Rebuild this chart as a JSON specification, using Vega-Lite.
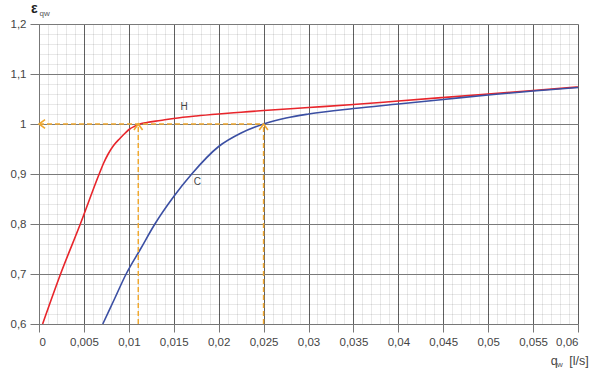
{
  "$schema": "https://vega.github.io/schema/vega-lite/v6.json",
  "width": 539,
  "height": 300,
  "autosize": {"type": "none"},
  "padding": {"left": 39, "top": 24, "right": 22, "bottom": 52},
  "background": "white",
  "config": {
    "view": {"stroke": null},
    "axis": {"labelFont": "Liberation Sans", "labelFontSize": 11.5, "labelColor": "#444444", "titleFont": "Liberation Sans"}
  },
  "datasets": {
    "curves": [
      {"series": "H", "q": 0.0004, "e": 0.6},
      {"series": "H", "q": 0.0024, "e": 0.7},
      {"series": "H", "q": 0.0046, "e": 0.8},
      {"series": "H", "q": 0.0067, "e": 0.9},
      {"series": "H", "q": 0.0072, "e": 0.922},
      {"series": "H", "q": 0.0077, "e": 0.94},
      {"series": "H", "q": 0.0083, "e": 0.957},
      {"series": "H", "q": 0.009, "e": 0.971},
      {"series": "H", "q": 0.0096, "e": 0.982},
      {"series": "H", "q": 0.0101, "e": 0.99},
      {"series": "H", "q": 0.0106, "e": 0.995},
      {"series": "H", "q": 0.0111, "e": 0.999},
      {"series": "H", "q": 0.012, "e": 1.003},
      {"series": "H", "q": 0.0135, "e": 1.007},
      {"series": "H", "q": 0.015, "e": 1.011},
      {"series": "H", "q": 0.0175, "e": 1.016},
      {"series": "H", "q": 0.02, "e": 1.02},
      {"series": "H", "q": 0.0225, "e": 1.0235},
      {"series": "H", "q": 0.025, "e": 1.027},
      {"series": "H", "q": 0.03, "e": 1.033},
      {"series": "H", "q": 0.035, "e": 1.039},
      {"series": "H", "q": 0.04, "e": 1.046},
      {"series": "H", "q": 0.045, "e": 1.053},
      {"series": "H", "q": 0.05, "e": 1.06},
      {"series": "H", "q": 0.055, "e": 1.067},
      {"series": "H", "q": 0.06, "e": 1.074},
      {"series": "C", "q": 0.0071, "e": 0.6},
      {"series": "C", "q": 0.0084, "e": 0.65},
      {"series": "C", "q": 0.0097, "e": 0.7},
      {"series": "C", "q": 0.0113, "e": 0.75},
      {"series": "C", "q": 0.0129, "e": 0.8},
      {"series": "C", "q": 0.015, "e": 0.855},
      {"series": "C", "q": 0.017, "e": 0.9},
      {"series": "C", "q": 0.02, "e": 0.955},
      {"series": "C", "q": 0.0225, "e": 0.982},
      {"series": "C", "q": 0.025, "e": 1.0},
      {"series": "C", "q": 0.0275, "e": 1.012},
      {"series": "C", "q": 0.03, "e": 1.02},
      {"series": "C", "q": 0.035, "e": 1.031},
      {"series": "C", "q": 0.04, "e": 1.04},
      {"series": "C", "q": 0.045, "e": 1.049},
      {"series": "C", "q": 0.05, "e": 1.058},
      {"series": "C", "q": 0.055, "e": 1.066},
      {"series": "C", "q": 0.06, "e": 1.073}
    ],
    "guides": [
      {"q": 0, "q2": 0.025, "e": 1.0, "e2": 1.0},
      {"q": 0.01105, "q2": 0.01105, "e": 0.6, "e2": 1.0},
      {"q": 0.025, "q2": 0.025, "e": 0.6, "e2": 1.0}
    ],
    "leftArrow": [{"q": 0, "e": 1.0}],
    "upArrows": [{"q": 0.01105, "e": 1.0}, {"q": 0.025, "e": 1.0}],
    "curveLabels": [
      {"q": 0.01614, "e": 1.0346, "t": "H"},
      {"q": 0.01762, "e": 0.884, "t": "C"}
    ],
    "mainTitles": [
      {"q": 0.05696, "e": 0.519, "t": "q"},
      {"q": 0.05903, "e": 0.519, "t": "[l/s]"}
    ],
    "epsTitle": [{"q": -0.00089, "e": 1.223, "t": "ε"}],
    "subTitles": [
      {"q": 0.00006, "e": 1.2166, "t": "qw"},
      {"q": 0.05767, "e": 0.514, "t": "w"}
    ]
  },
  "layer": [
    {
      "data": {"name": "curves"},
      "mark": {"type": "line", "strokeWidth": 1.6, "interpolate": "monotone"},
      "encoding": {
        "x": {"field": "q", "type": "quantitative",
          "scale": {"domain": [0, 0.06], "nice": false, "zero": false},
          "axis": {"orient": "bottom", "title": null, "grid": true, "gridColor": "#000000", "gridOpacity": 0.09, "gridWidth": 1,
            "labels": false, "ticks": false, "domain": false,
            "values": [0,0.001,0.002,0.003,0.004,0.005,0.006,0.007,0.008,0.009,0.01,0.011,0.012,0.013,0.014,0.015,0.016,0.017,0.018,0.019,0.02,0.021,0.022,0.023,0.024,0.025,0.026,0.027,0.028,0.029,0.03,0.031,0.032,0.033,0.034,0.035,0.036,0.037,0.038,0.039,0.04,0.041,0.042,0.043,0.044,0.045,0.046,0.047,0.048,0.049,0.05,0.051,0.052,0.053,0.054,0.055,0.056,0.057,0.058,0.059,0.06]}},
        "y": {"field": "e", "type": "quantitative",
          "scale": {"domain": [0.6, 1.2], "nice": false, "zero": false},
          "axis": {"orient": "left", "title": null, "grid": true, "gridColor": "#000000", "gridOpacity": 0.09, "gridWidth": 1,
            "labels": false, "ticks": false, "domain": false,
            "values": [0.6,0.62,0.64,0.66,0.68,0.7,0.72,0.74,0.76,0.78,0.8,0.82,0.84,0.86,0.88,0.9,0.92,0.94,0.96,0.98,1.0,1.02,1.04,1.06,1.08,1.1,1.12,1.14,1.16,1.18,1.2]}},
        "color": {"field": "series", "type": "nominal",
          "scale": {"domain": ["H", "C"], "range": ["#e8252b", "#3b4fa3"]}, "legend": null},
        "order": {"field": "q", "type": "quantitative"}
      }
    },
    {
      "data": {"name": "guides"},
      "mark": {"type": "rule", "color": "#f0a830", "strokeWidth": 1.5, "strokeDash": [5, 3]},
      "encoding": {
        "x": {"field": "q", "type": "quantitative",
          "axis": {"orient": "bottom", "title": null, "grid": true, "gridColor": "#5e5e5e", "gridWidth": 1,
            "tickColor": "#777777", "tickSize": 8, "domainColor": "#777777", "labelPadding": 4,
            "values": [0,0.005,0.01,0.015,0.02,0.025,0.03,0.035,0.04,0.045,0.05,0.055,0.06],
            "labelExpr": "replace(format(datum.value, '.3~f'), '.', ',')"}},
        "x2": {"field": "q2"},
        "y": {"field": "e", "type": "quantitative",
          "axis": {"orient": "left", "title": null, "grid": true, "gridColor": "#7a7a7a", "gridWidth": 1,
            "tickColor": "#777777", "tickSize": 9, "domainColor": "#777777", "labelPadding": 4,
            "values": [0.6,0.7,0.8,0.9,1.0,1.1,1.2],
            "labelExpr": "replace(format(datum.value, '.1~f'), '.', ',')"}},
        "y2": {"field": "e2"}
      }
    },
    {
      "data": {"name": "leftArrow"},
      "mark": {"type": "point", "shape": "M1.4,-1L0,0L1.4,1", "filled": false, "stroke": "#f0a830", "strokeWidth": 1.6, "size": 75, "opacity": 1},
      "encoding": {
        "x": {"field": "q", "type": "quantitative", "axis": null},
        "y": {"field": "e", "type": "quantitative", "axis": null}
      }
    },
    {
      "data": {"name": "upArrows"},
      "mark": {"type": "point", "shape": "M-1,1.4L0,0L1,1.4", "filled": false, "stroke": "#f0a830", "strokeWidth": 1.6, "size": 75, "opacity": 1},
      "encoding": {
        "x": {"field": "q", "type": "quantitative", "axis": null},
        "y": {"field": "e", "type": "quantitative", "axis": null}
      }
    },
    {
      "data": {"name": "curveLabels"},
      "mark": {"type": "text", "font": "Liberation Sans", "fontSize": 10, "color": "#444444", "align": "center", "baseline": "middle"},
      "encoding": {
        "x": {"field": "q", "type": "quantitative", "axis": null},
        "y": {"field": "e", "type": "quantitative", "axis": null},
        "text": {"field": "t"}
      }
    },
    {
      "data": {"name": "mainTitles"},
      "mark": {"type": "text", "font": "Liberation Sans", "fontSize": 12.5, "color": "#444444", "align": "left", "baseline": "alphabetic"},
      "encoding": {
        "x": {"field": "q", "type": "quantitative", "axis": null},
        "y": {"field": "e", "type": "quantitative", "axis": null},
        "text": {"field": "t"}
      }
    },
    {
      "data": {"name": "epsTitle"},
      "mark": {"type": "text", "font": "Liberation Sans", "fontSize": 14, "fontWeight": "bold", "color": "#222222", "align": "left", "baseline": "alphabetic"},
      "encoding": {
        "x": {"field": "q", "type": "quantitative", "axis": null},
        "y": {"field": "e", "type": "quantitative", "axis": null},
        "text": {"field": "t"}
      }
    },
    {
      "data": {"name": "subTitles"},
      "mark": {"type": "text", "font": "Liberation Sans", "fontSize": 8, "color": "#555555", "align": "left", "baseline": "alphabetic"},
      "encoding": {
        "x": {"field": "q", "type": "quantitative", "axis": null},
        "y": {"field": "e", "type": "quantitative", "axis": null},
        "text": {"field": "t"}
      }
    }
  ],
  "resolve": {"axis": {"x": "independent", "y": "independent"}}
}
